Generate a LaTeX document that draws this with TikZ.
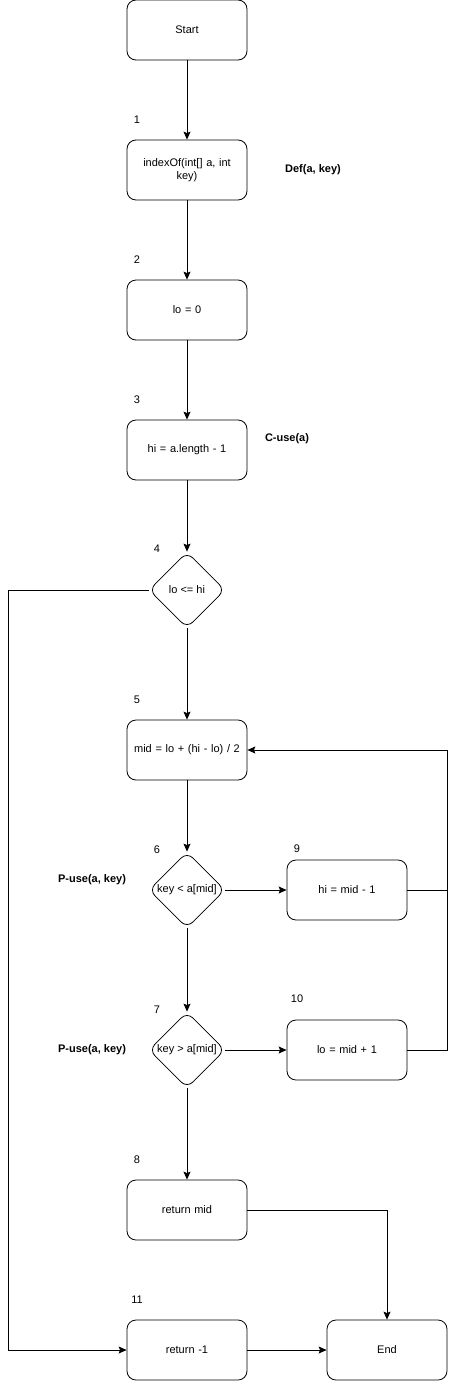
\documentclass[tikz,border=0pt]{standalone}
\usepackage{fontspec}
\setmainfont{Liberation Sans}
\usetikzlibrary{shapes.geometric,arrows.meta}
\begin{document}
\begin{tikzpicture}[x=1pt,y=-1pt,
  font=\fontsize{11}{13}\selectfont,
  box/.style={draw,line width=0.8pt,rounded corners=9pt,minimum width=120pt,minimum height=60pt,inner sep=2pt,align=center,text width=112pt},
  dia/.style={draw,line width=0.8pt,diamond,rounded corners=8pt,minimum width=76pt,minimum height=76pt,inner sep=0pt},
  txt/.style={inner sep=0pt},
  lbl/.style={inner sep=0pt,font=\fontsize{11}{13}\selectfont\bfseries},
  arr/.style={line width=0.8pt,-{Stealth[length=8pt,width=7pt,inset=1.5pt]}},
  ln/.style={line width=0.8pt}]
\useasboundingbox[fill=white] (0,0) rectangle (456,1381);
% boxes
\node[box] (s) at (187,30) {Start};
\node[box] (n1) at (187,170) {indexOf(int[] a, int\\key)};
\node[box] (n2) at (187,310) {lo = 0};
\node[box] (n3) at (187,450) {hi = a.length - 1};
\node[dia] (n4) at (187,590) {};
\node[txt] (t4) at (187,590) {lo <= hi};
\node[box] (n5) at (187,750) {mid = lo + (hi - lo) / 2};
\node[dia] (n6) at (187,890) {};
\node[txt] (t6) at (187,890) {key < a[mid]};
\node[box] (n9) at (347,890) {hi = mid - 1};
\node[dia] (n7) at (187,1050) {};
\node[txt] (t7) at (187,1050) {key > a[mid]};
\node[box] (n10) at (347,1050) {lo = mid + 1};
\node[box] (n8) at (187,1210) {return mid};
\node[box] (n11) at (187,1350) {return -1};
\node[box] (e) at (387,1350) {End};
% numbers
\node[txt] (l1) at (137,120) {1};
\node[txt] (l2) at (137,260) {2};
\node[txt] (l3) at (137,400) {3};
\node[txt] (l4) at (157,549) {4};
\node[txt] (l5) at (137,700) {5};
\node[txt] (l6) at (157,850) {6};
\node[txt] (l9) at (297,849) {9};
\node[txt] (l7) at (157,1010) {7};
\node[txt] (l10) at (297,999) {10};
\node[txt] (l8) at (137,1160) {8};
\node[txt] (l11) at (137,1300) {11};
% annotations
\node[lbl] (a1) at (313,170) {Def(a, key)};
\node[lbl] (a3) at (287,439) {C-use(a)};
\node[lbl] (a6) at (92,880) {P-use(a, key)};
\node[lbl] (a7) at (92,1050) {P-use(a, key)};
% coordinates
\coordinate (c4a) at (8,590);
\coordinate (c4b) at (8,1350);
\coordinate (cr1) at (447,890);
\coordinate (cr2) at (447,750);
\coordinate (cr3) at (447,1050);
\coordinate (c8) at (387,1210);
% edges
\draw[arr] (s) -- (n1);
\draw[arr] (n1) -- (n2);
\draw[arr] (n2) -- (n3);
\draw[arr] (n3) -- (n4);
\draw[arr] (n4) -- (n5);
\draw[arr] (n4.west) -- (c4a) -- (c4b) -- (n11.west);
\draw[arr] (n5) -- (n6);
\draw[arr] (n6) -- (n9);
\draw[arr] (n6) -- (n7);
\draw[arr] (n7) -- (n10);
\draw[arr] (n7) -- (n8);
\draw[arr] (n9.east) -- (cr1) -- (cr2) -- (n5.east);
\draw[ln] (n10.east) -- (cr3) -- (cr1);
\draw[arr] (n8.east) -- (c8) -- (e.north);
\draw[arr] (n11) -- (e);
\end{tikzpicture}
\end{document}
